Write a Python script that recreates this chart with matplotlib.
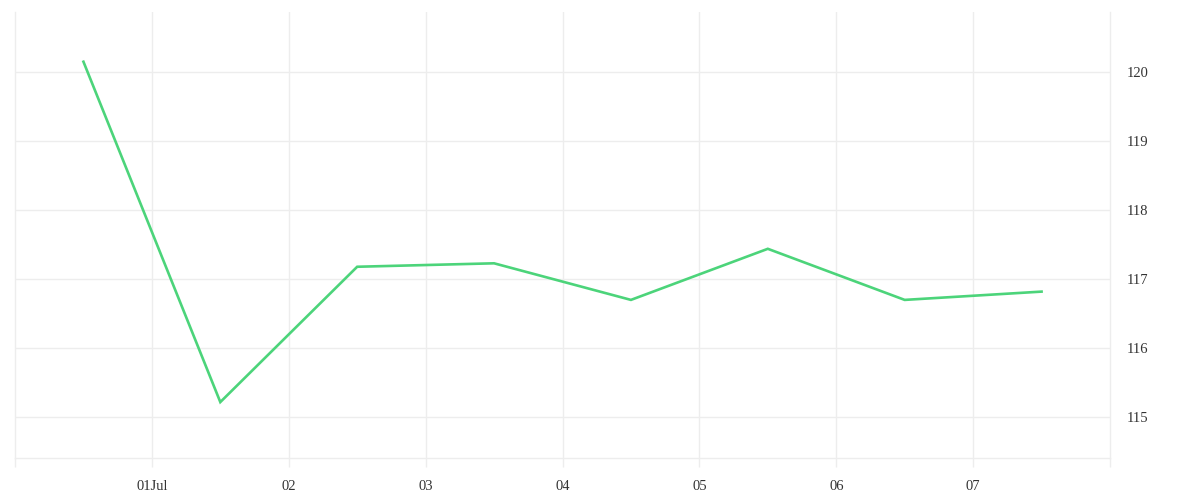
import numpy as np
import matplotlib
matplotlib.use("Agg")
import matplotlib.pyplot as plt
import matplotlib.dates as mdates
from datetime import datetime

# daily values, plotted at midday
dates = [datetime(2024, 6, 30, 12), datetime(2024, 7, 1, 12), datetime(2024, 7, 2, 12),
         datetime(2024, 7, 3, 12), datetime(2024, 7, 4, 12), datetime(2024, 7, 5, 12),
         datetime(2024, 7, 6, 12), datetime(2024, 7, 7, 12)]
values = [120.15, 115.22, 117.18, 117.23, 116.70, 117.44, 116.70, 116.82]

tick_dates = [datetime(2024, 7, d) for d in range(1, 8)]
tick_labels = ["01Jul", "02", "03", "04", "05", "06", "07"]
y_ticks = [115, 116, 117, 118, 119, 120]

grid_col = "#ededed"
plt.rcParams['font.family'] = ['Liberation Serif', 'DejaVu Serif']

fig = plt.figure(figsize=(12, 5), dpi=100)
ax = fig.add_axes([0.0125, 0.084, 0.9125, 0.892])

ax.plot(mdates.date2num(dates), values, color="#4cd47a", lw=1.9, solid_joinstyle="miter")

ax.set_xlim(mdates.date2num(datetime(2024, 6, 30)), mdates.date2num(datetime(2024, 7, 8)))
ax.set_ylim(114.41, 120.87)

ax.set_xticks(mdates.date2num(tick_dates))
ax.set_xticklabels(tick_labels)
ax.set_xticks(mdates.date2num([datetime(2024, 6, 30), datetime(2024, 7, 8)]), minor=True)
ax.set_yticks(y_ticks)

ax.yaxis.tick_right()
ax.tick_params(axis="y", length=0, pad=12, labelsize=10.5, labelcolor="#333333")
ax.tick_params(axis="x", which="both", length=6.5, width=1, color=grid_col, pad=9,
               labelsize=10.5, labelcolor="#333333")

ax.grid(True, color=grid_col, lw=1)
ax.set_axisbelow(True)
for side in ["left", "right", "bottom"]:
    ax.spines[side].set_color(grid_col)
    ax.spines[side].set_linewidth(1)
ax.spines["top"].set_visible(False)

fig.savefig("out.png", dpi=100, facecolor="white")
